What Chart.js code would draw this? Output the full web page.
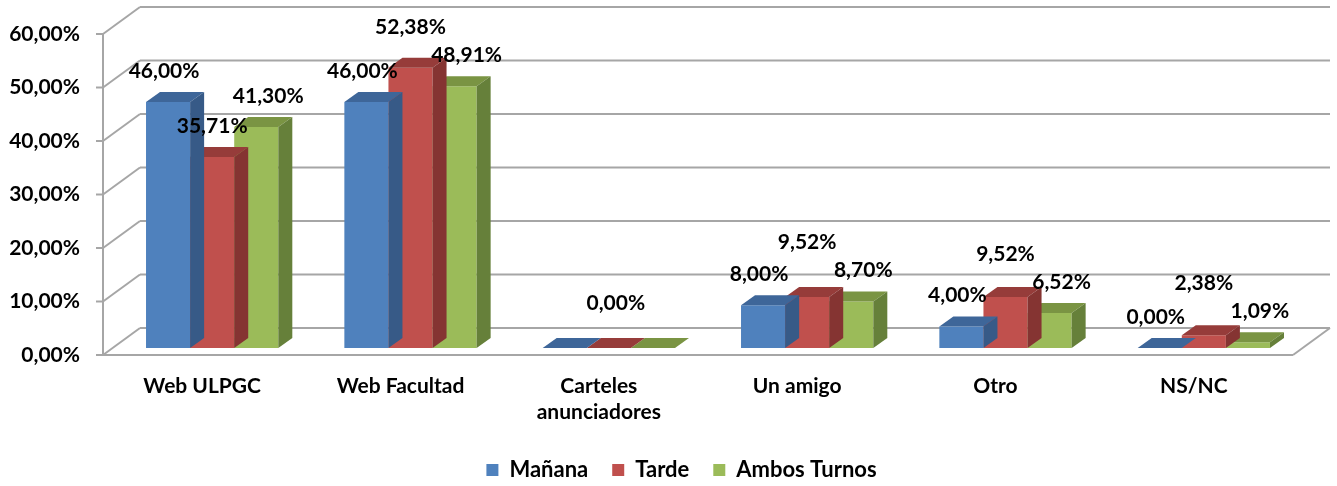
<!DOCTYPE html>
<html>
<head>
<meta charset="utf-8">
<script src="https://cdn.jsdelivr.net/npm/chart.js@4/dist/chart.umd.min.js"></script>
<style>
  html, body { margin: 0; padding: 0; background: #ffffff; }
  #wrap { width: 1337px; height: 486px; }
</style>
</head>
<body>
<div id="wrap"><canvas id="chart" width="1337" height="486"></canvas></div>
<script>
// Data
const categories = ['Web ULPGC', 'Web Facultad', ['Carteles', 'anunciadores'], 'Un amigo', 'Otro', 'NS/NC'];
const seriesNames = ['Mañana', 'Tarde', 'Ambos Turnos'];
const manana = [46.00, 46.00, 0.00, 8.00, 4.00, 0.00];
const tarde = [35.71, 52.38, 0.00, 9.52, 9.52, 2.38];
const ambos = [41.30, 48.91, 0.00, 8.70, 6.52, 1.09];
const yMin = 0, yMax = 60, yStep = 10;

// 3D look
const FONT = 'Lato';
const GRID = '#a6a6a6';
const FRONT = { dx: -10, dy: 7 };   // front plane, relative to the bar plane
const BACK = { dx: 27, dy: -20 };   // back wall
const DEPTH = { dx: 14, dy: -10 };  // depth of a bar
const faces = [
    { front: '#4F81BD', top: '#3E6699', side: '#375A87' },
    { front: '#C0504D', top: '#963C3A', side: '#853432' },
    { front: '#9BBB59', top: '#7A9443', side: '#66803A' }
];

function pct(v) {
    return v.toFixed(2).replace('.', ',') + '%';
}

function line(ctx, x1, y1, x2, y2) {
    ctx.beginPath();
    ctx.moveTo(x1, y1);
    ctx.lineTo(x2, y2);
    ctx.stroke();
}

function poly(ctx, pts, color) {
    ctx.beginPath();
    ctx.moveTo(pts[0][0], pts[0][1]);
    pts.slice(1).forEach(p => ctx.lineTo(p[0], p[1]));
    ctx.closePath();
    ctx.fillStyle = color;
    ctx.fill();
}

// walls, floor and grid of the 3D box
const wallsPlugin = {
    id: 'walls',
    afterLayout(chart) {
        // legend sits centred on the whole picture, not on the plot
        chart.legend.left += 30;
        chart.legend.right += 30;
    },
    beforeDatasetsDraw(chart) {
        const { ctx, chartArea: a, scales: { y } } = chart;
        const fl = a.left + FRONT.dx, fr = a.right + FRONT.dx;
        const bl = a.left + BACK.dx, br = a.right + BACK.dx;
        ctx.save();
        ctx.strokeStyle = GRID;
        ctx.lineWidth = 2;
        y.ticks.forEach(t => {
            const py = y.getPixelForValue(t.value);
            line(ctx, fl, py + FRONT.dy, bl, py + BACK.dy);
            line(ctx, bl, py + BACK.dy, br, py + BACK.dy);
            line(ctx, fl - 7, py + FRONT.dy, fl, py + FRONT.dy);
        });
        const top = y.getPixelForValue(yMax), y0 = y.getPixelForValue(yMin);
        line(ctx, fl, top + FRONT.dy, fl, y0 + FRONT.dy);
        line(ctx, fl, y0 + FRONT.dy, fr, y0 + FRONT.dy);
        line(ctx, fr, y0 + FRONT.dy, br, y0 + BACK.dy);
        ctx.restore();
    }
};

// top and side faces for every bar, then the value labels
const barsPlugin = {
    id: 'bars3d',
    afterDatasetDraw(chart, args) {
        const { ctx } = chart;
        const f = faces[args.index];
        ctx.save();
        args.meta.data.forEach(bar => {
            const { x, y, base, width } = bar.getProps(['x', 'y', 'base', 'width'], true);
            const l = x - width / 2, r = x + width / 2;
            poly(ctx, [[l, y], [r, y], [r + DEPTH.dx, y + DEPTH.dy], [l + DEPTH.dx, y + DEPTH.dy]], f.top);
            poly(ctx, [[r, y], [r + DEPTH.dx, y + DEPTH.dy], [r + DEPTH.dx, base + DEPTH.dy], [r, base]], f.side);
        });
        ctx.restore();
    },
    afterDatasetsDraw(chart) {
        const { ctx } = chart;
        const sets = chart.data.datasets;
        const metas = sets.map((s, di) => chart.getDatasetMeta(di));
        ctx.save();
        ctx.font = 'bold 21px ' + FONT;
        ctx.fillStyle = '#000000';
        ctx.textAlign = 'center';
        ctx.textBaseline = 'middle';
        chart.data.labels.forEach((c, i) => {
            const pos = metas.map((m, di) => {
                const { x, y } = m.data[i].getProps(['x', 'y'], true);
                return { x: x + (di === 2 ? 12 : di === 0 ? -4 : 0), y: y - 31 };
            });
            // when the group is all equal only the middle label is shown
            const same = sets.every(s => s.data[i] === sets[0].data[i]);
            if (same) {
                ctx.fillText(pct(sets[1].data[i]), pos[1].x + 7, pos[1].y - 14);
                return;
            }
            // lift the middle label if it runs into a neighbour
            const gap = 28;
            const near = [pos[0].y, pos[2].y].filter(v => Math.abs(v - pos[1].y) < gap);
            if (near.length) pos[1].y = Math.min(pos[1].y, Math.min(...near) - gap);
            sets.forEach((s, di) => ctx.fillText(pct(s.data[i]), pos[di].x, pos[di].y));
        });
        ctx.restore();
    }
};

new Chart(document.getElementById('chart'), {
    type: 'bar',
    data: {
        labels: categories,
        datasets: [
            { label: seriesNames[0], data: manana, backgroundColor: faces[0].front },
            { label: seriesNames[1], data: tarde, backgroundColor: faces[1].front },
            { label: seriesNames[2], data: ambos, backgroundColor: faces[2].front }
        ]
    },
    options: {
        responsive: false,
        animation: false,
        events: [],
        layout: { padding: { left: 0, right: 34, top: 27, bottom: -5 } },
        datasets: {
            bar: { categoryPercentage: 0.667, barPercentage: 1.0, borderWidth: 0 }
        },
        scales: {
            x: {
                grid: { display: false, drawTicks: false },
                border: { display: false },
                ticks: {
                    color: '#000000',
                    font: { family: FONT, size: 21, weight: 'bold' },
                    padding: 26,
                    labelOffset: FRONT.dx,
                    maxRotation: 0
                },
                afterFit(scale) {
                    scale.height = 87;
                    scale.paddingLeft = 0;
                    scale.paddingRight = 0;
                }
            },
            y: {
                min: yMin,
                max: yMax,
                grid: { display: false, drawTicks: false },
                border: { display: false },
                ticks: {
                    stepSize: yStep,
                    color: '#000000',
                    font: { family: FONT, size: 21, weight: 'bold' },
                    padding: 33,
                    labelOffset: FRONT.dy,
                    callback: v => pct(v)
                },
                afterFit(scale) {
                    scale.width = 113;
                    scale.paddingTop = 0;
                    scale.paddingBottom = 0;
                }
            }
        },
        plugins: {
            legend: {
                position: 'bottom',
                labels: {
                    color: '#000000',
                    font: { family: FONT, size: 22, weight: 'bold' },
                    boxWidth: 12,
                    boxHeight: 12,
                    padding: 24
                }
            },
            tooltip: { enabled: false }
        }
    },
    plugins: [wallsPlugin, barsPlugin]
});
</script>
</body>
</html>
